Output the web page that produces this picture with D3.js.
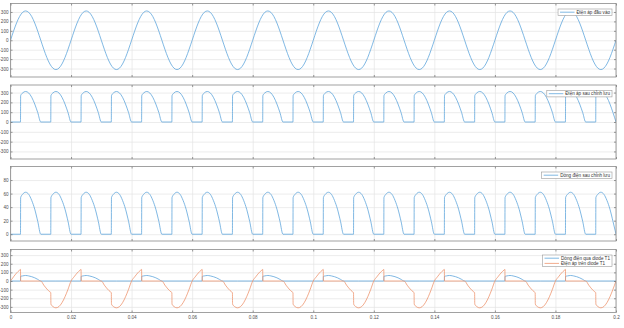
<!DOCTYPE html>
<html>
<head>
<meta charset="utf-8">
<script src="https://cdn.jsdelivr.net/npm/d3@7"></script>
<style>
  body { margin: 0; background: #fff; }
  text { font-family: "Liberation Sans", Arial, sans-serif; }
</style>
</head>
<body>
<script>
const WIDTH = 624;
const HEIGHT = 328;
const X0 = 10.5;
const X1 = 616;
const BLUE = '#5fa6dc';
const ORANGE = '#ee9670';

// one 20 ms period of every waveform (t in ms), repeated 10 times below
const T_VIN = [0, 1, 2, 3, 4, 5, 6, 7, 8, 9, 10, 11, 12, 13, 14, 15, 16, 17, 18, 19];
const V_IN = [0, 96, 183, 252, 296, 311, 296, 252, 183, 96, 0, -96, -183, -252, -296, -311, -296, -252, -183, -96];

const T_OUT = [0, 3.3, 3.35, 4, 5, 6, 7, 8, 9, 10, 13.3, 13.35, 14, 15, 16, 17, 18, 19];
const V_OUT = [0, 0, 268, 296, 311, 296, 252, 183, 96, 0, 0, 268, 296, 311, 296, 252, 183, 96];
const I_OUT = [0, 0, 54, 59, 62, 59, 50, 37, 19, 0, 0, 54, 59, 62, 59, 50, 37, 19];

const T_IT1 = [0, 3.3, 3.35, 4, 5, 6, 7, 8, 9, 10, 15];
const I_T1 = [0, 0, 54, 59, 64, 59, 50, 37, 19, 0, 0];

const T_VT1 = [0, 1, 2, 3, 3.3, 3.35, 10, 11, 12, 13, 13.3, 13.35, 14, 15, 16, 17, 18, 19];
const V_T1 = [0, 48, 92, 126, 134, 0, 0, -48, -92, -126, -134, -268, -296, -311, -296, -252, -183, -96];

const X_TICKS = [0, 0.02, 0.04, 0.06, 0.08, 0.1, 0.12, 0.14, 0.16, 0.18, 0.2];
const V_TICKS = [-300, -200, -100, 0, 100, 200, 300];
const I_TICKS = [0, 20, 40, 60, 80];

const LEGEND_1 = ['Điện áp đầu vào'];
const LEGEND_2 = ['Điện áp sau chỉnh lưu'];
const LEGEND_3 = ['Dòng điện sau chỉnh lưu'];
const LEGEND_4 = ['Dòng điện qua diode T1', 'Điện áp trên diode T1'];

const tile = (ts, vs) => {
  const out = [];
  for (let k = 0; k < 10; k++) {
    ts.forEach((t, i) => out.push({ t: (k * 20 + t) / 1000, v: vs[i] }));
  }
  out.push({ t: 0.2, v: vs[0] });
  return out;
};

const panels = [
  { top: 3.5, bottom: 77, domain: [-390, 390], ticks: V_TICKS,
    series: [tile(T_VIN, V_IN)], colors: [BLUE], legend: LEGEND_1 },
  { top: 85, bottom: 159, domain: [-377, 377], ticks: V_TICKS,
    series: [tile(T_OUT, V_OUT)], colors: [BLUE], legend: LEGEND_2 },
  { top: 166.5, bottom: 241, domain: [-10, 100], ticks: I_TICKS,
    series: [tile(T_OUT, I_OUT)], colors: [BLUE], legend: LEGEND_3 },
  { top: 249.5, bottom: 312.5, domain: [-365, 365], ticks: V_TICKS,
    series: [tile(T_IT1, I_T1), tile(T_VT1, V_T1)], colors: [BLUE, ORANGE], legend: LEGEND_4, xlabels: true }
];

const svg = d3.select('body').append('svg')
  .attr('width', WIDTH)
  .attr('height', HEIGHT);

const x = d3.scaleLinear().domain([0, 0.2]).range([X0, X1]);

const styleAxis = g => {
  g.select('.domain').remove();
  g.selectAll('line').attr('stroke', '#555').attr('stroke-width', 0.6);
  g.selectAll('text').attr('fill', '#4d4d4d').attr('font-size', 4.6);
};

panels.forEach((p, idx) => {
  const y = d3.scaleLinear().domain(p.domain).range([p.bottom, p.top]);
  const g = svg.append('g');

  // grid
  g.append('g')
    .attr('transform', `translate(0, ${p.bottom})`)
    .call(d3.axisBottom(x).tickValues(X_TICKS).tickSize(p.top - p.bottom).tickFormat(''))
    .call(a => a.select('.domain').remove())
    .call(a => a.selectAll('line').attr('stroke', '#e4e4e4').attr('stroke-width', 0.7));
  g.append('g')
    .attr('transform', `translate(${X0}, 0)`)
    .call(d3.axisLeft(y).tickValues(p.ticks).tickSize(-(X1 - X0)).tickFormat(''))
    .call(a => a.select('.domain').remove())
    .call(a => a.selectAll('line').attr('stroke', '#e4e4e4').attr('stroke-width', 0.7));

  // series
  g.append('clipPath').attr('id', 'clip' + idx)
    .append('rect')
      .attr('x', X0).attr('y', p.top)
      .attr('width', X1 - X0).attr('height', p.bottom - p.top);

  const line = d3.line()
    .x(d => x(d.t))
    .y(d => y(d.v))
    .curve(d3.curveMonotoneX);

  p.series.forEach((s, i) => {
    g.append('path')
      .datum(s)
      .attr('clip-path', `url(#clip${idx})`)
      .attr('fill', 'none')
      .attr('stroke', p.colors[i])
      .attr('stroke-width', 0.8)
      .attr('d', line);
  });

  // ticks on all four sides
  g.append('g').attr('transform', `translate(${X0}, 0)`)
    .call(d3.axisLeft(y).tickValues(p.ticks).tickSize(-2).tickPadding(2).tickFormat(d => String(d)))
    .call(styleAxis);
  g.append('g').attr('transform', `translate(${X1}, 0)`)
    .call(d3.axisRight(y).tickValues(p.ticks).tickSize(-2).tickFormat(''))
    .call(styleAxis);
  g.append('g').attr('transform', `translate(0, ${p.bottom})`)
    .call(d3.axisBottom(x).tickValues(X_TICKS).tickSize(-2).tickPadding(3)
      .tickFormat(p.xlabels ? (d => String(+d.toFixed(2))) : ''))
    .call(styleAxis);
  g.append('g').attr('transform', `translate(0, ${p.top})`)
    .call(d3.axisTop(x).tickValues(X_TICKS).tickSize(-2).tickFormat(''))
    .call(styleAxis);

  g.append('rect')
    .attr('x', X0).attr('y', p.top)
    .attr('width', X1 - X0).attr('height', p.bottom - p.top)
    .attr('fill', 'none')
    .attr('stroke', '#8a8a8a')
    .attr('stroke-width', 0.8);

  // legend
  const ROW = 5.2;
  const lg = g.append('g');
  const box = lg.append('rect')
    .attr('fill', '#fff')
    .attr('stroke', '#9a9a9a')
    .attr('stroke-width', 0.6);
  const texts = p.legend.map((label, i) => {
    lg.append('line')
      .attr('x1', 2).attr('x2', 16.5)
      .attr('y1', 0.6 + ROW * (i + 0.5)).attr('y2', 0.6 + ROW * (i + 0.5))
      .attr('stroke', p.colors[i])
      .attr('stroke-width', 0.8);
    return lg.append('text')
      .attr('x', 18.5)
      .attr('y', 0.6 + ROW * (i + 0.5))
      .attr('dy', '0.35em')
      .attr('font-size', 4.6)
      .attr('fill', '#333')
      .text(label);
  });
  const tw = d3.max(texts, t => t.node().getComputedTextLength());
  const bw = tw + 20.5;
  const bh = ROW * p.legend.length + 1.2;
  box.attr('width', bw).attr('height', bh);
  lg.attr('transform', `translate(${X1 - 4 - bw}, ${p.top + 5.5})`);
});
</script>
</body>
</html>
